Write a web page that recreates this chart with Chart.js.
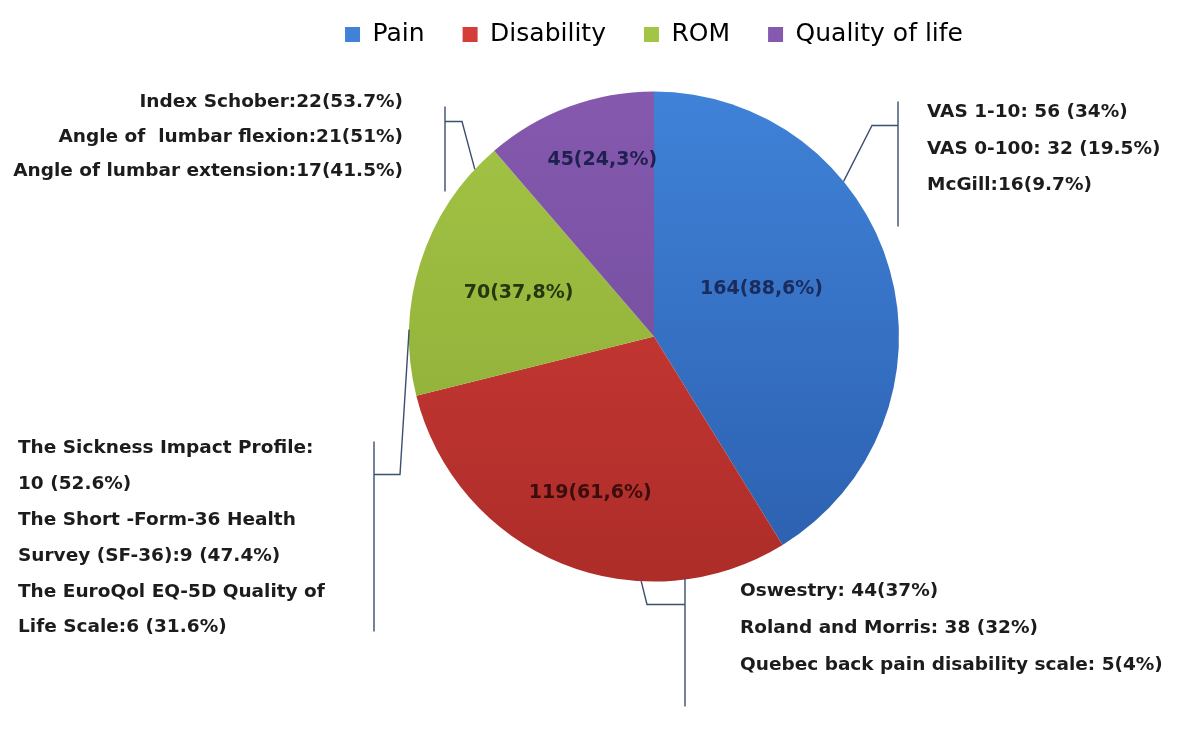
<!DOCTYPE html>
<html>
<head>
<meta charset="utf-8">
<script src="https://cdn.jsdelivr.net/npm/chart.js@4"></script>
<style>
  html, body { margin: 0; padding: 0; background: #fff; }
  #wrap { width: 1200px; height: 729px; }
</style>
</head>
<body>
<div id="wrap"><canvas id="pieChart"></canvas></div>
<script>
// ---------- Data ----------
const categories = ["Pain", "Disability", "ROM", "Quality of life"];
const counts = [164, 119, 70, 45];
const sliceLabels = ["164(88,6%)", "119(61,6%)", "70(37,8%)", "45(24,3%)"];

const painNotes = ["VAS 1-10: 56 (34%)", "VAS 0-100: 32 (19.5%)", "McGill:16(9.7%)"];
const disabilityNotes = ["Oswestry: 44(37%)", "Roland and Morris: 38 (32%)", "Quebec back pain disability scale: 5(4%)"];
const romNotes = ["Index Schober:22(53.7%)", "Angle of  lumbar flexion:21(51%)", "Angle of lumbar extension:17(41.5%)"];
const qolNotes = ["The Sickness Impact Profile:", "10 (52.6%)", "The Short -Form-36 Health",
    "Survey (SF-36):9 (47.4%)", "The EuroQol EQ-5D Quality of", "Life Scale:6 (31.6%)"];

// ---------- Styles ----------
const topColors = ["#3f82d8", "#d43d38", "#a3c545", "#8559ae"];
const bottomColors = ["#2c5fae", "#ad2d29", "#8aa835", "#6c4a98"];
const labelColors = ["#1a2b5c", "#3b0d0d", "#26360f", "#1e2150"];
const labelRadius = [0.48, 0.69, 0.58, 0.75];
const labelShift = [-8, 0, 0, 4];   // degrees

// callouts: anchor angle on the rim (deg clockwise from top), offsets from pie centre
const callouts = [
    { lines: painNotes, anchor: 50.7, elbow: [218, -211], barX: 244, barY: [-235, -110],
      textX: 273, textY: -224, step: 36.5, align: "left" },
    { lines: disabilityNotes, anchor: 183, elbow: [-7, 268], barX: 31, barY: [241, 370],
      textX: 86, textY: 255, step: 37, align: "left" },
    { lines: romNotes, anchor: 313, elbow: [-192, -215], barX: -209, barY: [-230, -145],
      textX: -251, textY: -234, step: 34.5, align: "right" },
    { lines: qolNotes, anchor: 271.6, elbow: [-254, 138], barX: -280, barY: [105, 295],
      textX: -636, textY: 112, step: 35.8, align: "left" }
];

function sliceGradient(context) {
    const chart = context.chart;
    const area = chart.chartArea;
    if (!area) return topColors[context.dataIndex];
    const cy = (area.top + area.bottom) / 2;
    const g = chart.ctx.createLinearGradient(0, cy - 245, 0, cy + 245);
    g.addColorStop(0, topColors[context.dataIndex]);
    g.addColorStop(1, bottomColors[context.dataIndex]);
    return g;
}

// ---------- Labels + callouts plugin ----------
const annotatePlugin = {
    id: "annotate",
    afterDatasetsDraw(chart) {
        const ctx = chart.ctx;
        const arcs = chart.getDatasetMeta(0).data;
        const cx = arcs[0].x, cy = arcs[0].y, r = arcs[0].outerRadius;
        ctx.save();

        // values inside slices
        ctx.font = "bold 19px 'DejaVu Sans'";
        ctx.textAlign = "center";
        ctx.textBaseline = "middle";
        arcs.forEach((arc, i) => {
            const mid = (arc.startAngle + arc.endAngle) / 2 + labelShift[i] * Math.PI / 180;
            const d = r * labelRadius[i];
            ctx.fillStyle = labelColors[i];
            ctx.fillText(sliceLabels[i], cx + Math.cos(mid) * d, cy + Math.sin(mid) * d);
        });

        // leader lines and notes
        ctx.strokeStyle = "#3b4f6e";
        ctx.lineWidth = 1.4;
        ctx.font = "bold 18.5px 'DejaVu Sans'";
        ctx.fillStyle = "#1c1c1c";
        callouts.forEach(c => {
            const a = (c.anchor - 90) * Math.PI / 180;
            const ax = cx + Math.cos(a) * r, ay = cy + Math.sin(a) * r;
            ctx.beginPath();
            ctx.moveTo(ax, ay);
            ctx.lineTo(cx + c.elbow[0], cy + c.elbow[1]);
            ctx.lineTo(cx + c.barX, cy + c.elbow[1]);
            ctx.moveTo(cx + c.barX, cy + c.barY[0]);
            ctx.lineTo(cx + c.barX, cy + c.barY[1]);
            ctx.stroke();

            ctx.textAlign = c.align;
            c.lines.forEach((line, k) => {
                ctx.fillText(line, cx + c.textX, cy + c.textY + k * c.step);
            });
        });
        ctx.restore();
    }
};

// ---------- Chart ----------
new Chart(document.getElementById("pieChart"), {
    type: "pie",
    data: {
        labels: categories,
        datasets: [{
            data: counts,
            backgroundColor: sliceGradient,
            borderWidth: 0,
            radius: 245
        }]
    },
    options: {
        responsive: true,
        maintainAspectRatio: false,
        animation: false,
        layout: { padding: { left: 108, right: 0, top: -16, bottom: 113 } },
        plugins: {
            legend: {
                position: "top",
                labels: {
                    boxWidth: 15,
                    boxHeight: 15,
                    padding: 38,
                    color: "#3d4660",
                    font: { family: "'DejaVu Sans'", size: 25 },
                    generateLabels(chart) {
                        return categories.map((name, i) => ({
                            text: name,
                            fillStyle: topColors[i],
                            strokeStyle: topColors[i],
                            lineWidth: 0,
                            index: i
                        }));
                    }
                }
            },
            tooltip: { enabled: false }
        }
    },
    plugins: [annotatePlugin]
});
</script>
</body>
</html>
